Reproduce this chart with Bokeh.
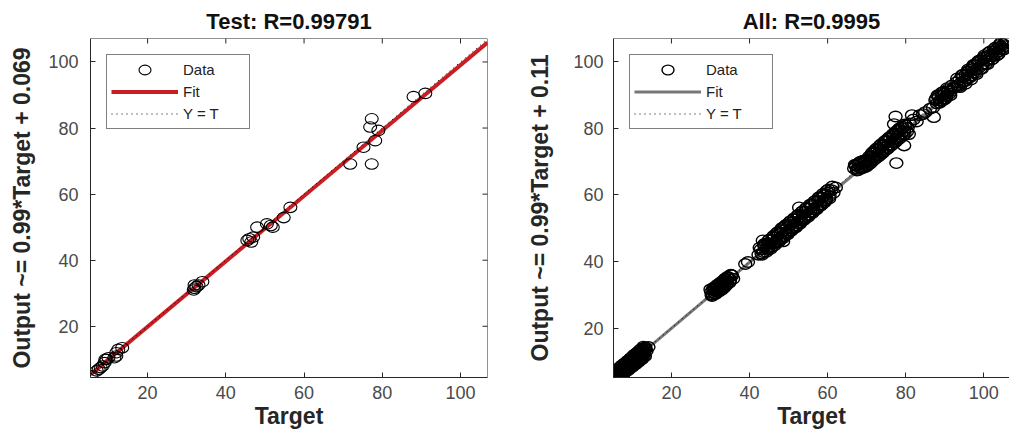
import math
from bokeh.plotting import figure
from bokeh.models import Range1d, Legend, LegendItem, FixedTicker, Span
from bokeh.layouts import row
from bokeh.embed import file_html
from bokeh.resources import INLINE

# ---------------- data ----------------
test_title = "Test: R=0.99791"
all_title = "All: R=0.9995"
test_ylabel = "Output ~= 0.99*Target + 0.069"
all_ylabel = "Output ~= 0.99*Target + 0.11"
x_label = "Target"
tick_values = [20, 40, 60, 80, 100]
legend_labels = ["Data", "Fit", "Y = T"]
test_fit = [0.99, 0.069]
all_fit = [0.99, 0.11]

test_target = [5.6, 7.0, 7.5, 8.0, 8.5, 9.0, 9.2, 9.5, 10.0, 11.5, 12.0, 12.0, 12.5, 13.5,
               31.8, 32.0, 32.0, 32.5, 33.0, 34.0, 45.5, 46.0, 46.5, 47.0, 48.0, 50.5, 51.5, 52.0,
               54.8, 56.5, 71.8, 75.2, 77.3, 76.9, 79.0, 78.2, 77.3, 88.0, 91.0]
test_output = [5.0, 6.5, 7.0, 7.5, 8.0, 9.0, 10.0, 10.0, 10.5, 10.5, 11.0, 12.0, 13.0, 13.5,
               31.0, 31.5, 32.5, 32.0, 32.5, 33.5, 46.0, 46.5, 45.5, 47.0, 50.0, 51.0, 50.5, 50.0,
               52.9, 56.0, 69.1, 74.2, 82.8, 80.3, 79.3, 76.2, 69.1, 89.5, 90.5]

all_target_a = [5.2, 5.4, 5.5, 5.6, 5.8, 5.9, 6.0, 6.1, 6.3, 6.4, 6.5, 6.7, 6.8, 7.0, 7.1, 7.3, 7.4,
                7.6, 7.8, 7.9, 8.1, 8.3, 8.4, 8.6, 8.8, 9.0, 9.1, 9.3, 9.5, 9.7, 9.9, 10.1, 10.3,
                10.5, 10.7, 10.9, 11.1, 11.3, 11.5, 11.7, 11.9, 12.1, 12.3, 12.5, 12.8, 13.0, 13.3,
                13.6, 14.1, 5.3, 6.2, 7.2, 8.0, 8.9, 9.8, 10.6, 11.4, 12.2, 13.1,
                5.3, 5.7, 6.1, 6.5, 6.9, 7.3, 7.7, 8.1, 8.5, 8.9, 9.3, 9.7, 10.1, 10.5, 10.9, 11.3,
                11.7, 12.1, 12.5, 12.9, 13.3,
                5.5, 5.9, 6.3, 6.7, 7.1, 7.5, 7.9, 8.3, 8.7, 9.1, 9.5, 9.9, 10.3, 10.7, 11.1, 11.5,
                11.9, 12.3, 12.7,
                5.6, 6.0, 6.4, 6.8, 7.2, 7.6, 8.0, 8.4, 8.8, 9.2, 9.6, 10.0, 10.4, 10.8, 11.2, 11.6,
                12.0, 12.4, 12.8, 13.2]
all_output_a = [5.6, 5.0, 6.1, 5.3, 6.2, 5.5, 6.6, 5.8, 6.0, 7.0, 6.2, 7.1, 6.5, 7.4, 6.8, 7.9, 7.0,
                7.2, 8.3, 7.5, 8.6, 7.9, 8.9, 8.2, 9.3, 8.6, 9.6, 9.0, 10.1, 9.2, 10.4, 9.7, 10.8,
                10.0, 11.2, 10.5, 11.6, 10.9, 12.0, 11.2, 12.4, 11.6, 12.8, 12.1, 13.2, 12.5, 13.6,
                13.1, 14.3, 5.9, 5.6, 6.7, 8.7, 8.0, 10.6, 9.9, 12.1, 11.3, 13.9,
                6.8, 4.9, 7.5, 5.4, 8.2, 6.0, 9.0, 6.7, 9.8, 7.4, 10.6, 8.3, 11.4, 9.1, 12.3, 9.9,
                13.0, 10.7, 13.8, 11.6, 14.2,
                4.8, 6.9, 5.6, 7.8, 6.2, 8.6, 7.1, 9.3, 7.8, 10.1, 8.5, 10.9, 9.4, 11.8, 10.2, 12.6,
                11.0, 13.4, 11.9,
                7.3, 5.2, 7.9, 5.7, 8.7, 6.3, 9.4, 7.0, 10.2, 7.7, 11.0, 8.4, 11.9, 9.1, 12.6, 9.9,
                13.5, 10.6, 14.4, 11.5]
all_target_b = [30.2, 30.5, 30.8, 31.0, 31.2, 31.4, 31.6, 31.8, 32.0, 32.2, 32.4, 32.6, 32.8, 33.0,
                33.3, 33.6, 33.9, 34.2, 34.6, 35.0, 35.5, 38.9, 39.6,
                30.0, 30.4, 30.9, 31.3, 31.7, 32.1, 32.5, 32.9, 33.2, 33.5, 33.8, 34.1, 34.4, 34.8,
                35.2, 35.8,
                30.3, 30.7, 31.1, 31.5, 31.9, 32.3, 32.7, 33.1, 33.4, 33.7, 34.0, 34.3, 34.9, 35.3]
all_output_b = [30.8, 30.1, 31.5, 30.6, 31.9, 31.0, 32.3, 31.3, 32.6, 31.7, 33.0, 32.1, 33.4, 32.5,
                33.9, 33.1, 34.4, 33.7, 35.0, 34.6, 35.8, 39.2, 39.8,
                31.6, 29.6, 32.2, 30.2, 32.9, 30.9, 33.6, 31.5, 34.2, 32.2, 34.9, 32.9, 35.4, 33.6,
                36.0, 34.8,
                29.9, 31.9, 30.4, 32.5, 31.1, 33.2, 31.7, 33.9, 32.4, 34.6, 33.0, 35.2, 33.9, 35.9]
all_target_c = [42.3, 42.9, 43.5, 43.9, 44.4, 44.8, 45.2, 45.6, 46.0, 46.4, 46.8, 47.2, 47.6, 48.0,
                48.4, 48.8, 49.2, 49.6, 50.0, 50.4, 50.8, 51.2, 51.6, 52.0, 52.4, 52.8, 53.2, 53.6,
                54.0, 54.4, 54.8, 55.2, 55.6, 56.0, 56.4, 56.8, 57.2, 57.6, 58.0, 58.4, 58.8, 59.2,
                59.6, 60.0, 60.5, 61.0, 61.5, 62.1, 52.7, 48.6, 43.4, 44.0,
                42.6, 43.2, 43.8, 44.3, 44.9, 45.4, 46.0, 46.5, 47.0, 47.5, 48.1, 48.6, 49.1, 49.7,
                50.2, 50.7, 51.3, 51.8, 52.3, 52.9, 53.4, 53.9, 54.5, 55.0, 55.5, 56.1, 56.6, 57.1,
                57.7, 58.2, 58.7, 59.3, 59.8, 60.4, 61.2,
                43.1, 43.7, 44.6, 45.1, 45.7, 46.3, 46.9, 47.4, 47.9, 48.3, 48.9, 49.4, 49.9, 50.5,
                51.0, 51.5, 52.1, 52.6, 53.1, 53.7, 54.2, 54.7, 55.3, 55.8, 56.3, 56.9, 57.4, 57.9,
                58.5, 59.0, 59.5, 60.2]
all_output_c = [42.0, 43.6, 42.8, 44.6, 43.9, 45.5, 44.6, 46.3, 45.4, 47.1, 46.0, 47.9, 46.8, 48.7,
                47.5, 49.3, 48.3, 50.2, 49.1, 51.0, 50.0, 51.9, 50.8, 52.6, 51.5, 53.4, 52.3, 54.2,
                53.1, 55.0, 54.0, 55.8, 54.7, 56.6, 55.6, 57.5, 56.3, 58.3, 57.1, 59.1, 57.8, 59.8,
                58.7, 60.6, 59.6, 61.4, 60.6, 62.2, 56.2, 46.0, 46.3, 44.7,
                44.1, 42.0, 45.2, 42.9, 46.3, 43.8, 47.4, 44.9, 48.5, 45.9, 49.6, 47.0, 50.6, 48.1,
                51.7, 49.2, 52.7, 50.2, 53.8, 51.3, 54.9, 52.4, 56.0, 53.4, 57.0, 54.5, 58.0, 55.6,
                59.1, 56.7, 60.1, 57.8, 61.2, 58.9, 62.5,
                42.4, 45.0, 43.5, 46.6, 44.4, 47.8, 45.6, 48.9, 46.6, 50.0, 47.6, 51.0, 48.6, 52.1,
                49.7, 53.0, 50.6, 54.0, 51.8, 55.1, 52.8, 56.1, 53.9, 57.1, 55.0, 58.2, 56.0, 59.3,
                57.1, 60.4, 58.3, 61.6]
all_target_d = [66.8, 67.2, 67.6, 68.0, 68.4, 68.8, 69.2, 69.6, 70.0, 70.4, 70.8, 71.2, 71.6, 72.0,
                72.4, 72.8, 73.2, 73.6, 74.0, 74.4, 74.8, 75.2, 75.6, 76.0, 76.4, 76.8, 77.2, 77.6,
                78.0, 78.4, 78.8, 79.2, 79.6, 80.0, 80.5, 81.0, 77.4, 77.6, 81.6, 79.6, 84.4, 87.2,
                77.0, 78.3, 80.8,
                67.0, 67.5, 68.1, 68.6, 69.1, 69.7, 70.2, 70.7, 71.3, 71.8, 72.3, 72.9, 73.4, 73.9,
                74.5, 75.0, 75.5, 76.1, 76.6, 77.1, 77.7, 78.2, 78.7, 79.3, 79.8, 80.3,
                67.3, 67.9, 68.4, 69.0, 69.5, 70.1, 70.6, 71.1, 71.7, 72.2, 72.7, 73.3, 73.8, 74.3,
                74.9, 75.4, 75.9, 76.5, 77.0, 77.5, 78.1, 78.6, 79.1, 79.7]
all_output_d = [67.9, 68.6, 67.8, 69.1, 68.2, 69.4, 68.5, 69.8, 68.9, 70.4, 70.0, 71.6, 71.2, 72.6,
                72.0, 73.4, 72.6, 74.2, 73.4, 75.1, 74.3, 76.0, 75.0, 76.8, 75.8, 77.6, 76.6, 78.4,
                77.5, 79.3, 78.4, 80.0, 79.1, 80.8, 80.1, 81.4, 83.5, 69.5, 83.9, 74.8, 84.2, 83.3,
                81.2, 79.8, 78.2,
                69.0, 67.3, 69.6, 67.9, 70.2, 68.3, 70.6, 69.2, 72.4, 70.4, 73.6, 71.4, 74.8, 72.4,
                75.9, 73.5, 76.9, 74.6, 78.0, 75.6, 79.1, 76.7, 80.1, 77.8, 81.1, 78.9,
                68.9, 67.4, 69.9, 68.0, 70.3, 68.6, 71.4, 69.6, 72.9, 70.8, 74.0, 71.8, 75.2, 72.8,
                76.3, 73.9, 77.3, 75.0, 78.4, 76.0, 79.5, 77.1, 80.5, 78.1]
all_target_e = [82.0, 82.8, 83.6, 85.0, 86.2, 87.0, 87.6, 88.0, 88.4, 88.8, 89.2, 89.6, 90.0, 90.4,
                90.8, 91.2, 91.6, 92.0, 92.5, 88.2, 88.7, 89.3, 89.9, 90.6, 91.4,
                87.8, 88.5, 89.1, 89.7, 90.2, 90.9, 91.8]
all_output_e = [82.6, 82.0, 83.9, 84.8, 85.8, 86.2, 88.4, 87.4, 89.3, 88.3, 89.9, 88.8, 90.3, 89.6,
                91.0, 90.4, 91.2, 91.9, 92.3, 89.9, 87.6, 90.7, 88.6, 92.0, 89.9,
                88.9, 89.8, 88.1, 90.9, 89.0, 91.7, 92.8]
all_target_f = [93.0, 93.4, 93.8, 94.2, 94.6, 95.0, 95.4, 95.8, 96.2, 96.6, 97.0, 97.4, 97.8, 98.2,
                98.6, 99.0, 99.4, 99.8, 100.2, 100.6, 101.0, 101.4, 101.8, 102.2, 102.6, 103.0,
                103.4, 103.8, 104.2, 104.6, 105.0, 105.4, 105.8, 106.2,
                93.2, 93.9, 94.6, 95.3, 96.0, 96.7, 97.4, 98.1, 98.8, 99.5, 100.2, 100.9, 101.6,
                102.3, 103.0, 103.7, 104.4, 105.1, 105.9,
                93.6, 94.4, 95.1, 95.9, 96.5, 97.2, 97.9, 98.5, 99.2, 99.9, 100.5, 101.2, 101.9,
                102.6, 103.3, 104.0, 104.8, 105.6]
all_output_f = [93.8, 92.9, 94.5, 93.6, 95.3, 94.2, 96.1, 95.0, 97.0, 95.8, 98.0, 96.7, 98.9, 97.6,
                99.8, 98.4, 100.4, 99.2, 101.1, 100.2, 101.6, 100.8, 102.0, 101.6, 102.9, 102.4,
                103.8, 103.0, 104.4, 103.9, 105.2, 104.6, 105.8, 106.8,
                94.9, 92.3, 96.0, 93.3, 97.6, 94.6, 99.0, 96.2, 100.3, 97.8, 101.9, 99.2, 103.0,
                100.8, 104.2, 102.2, 105.6, 103.6, 106.5,
                92.6, 95.8, 94.0, 97.1, 95.3, 98.6, 96.6, 99.9, 97.9, 101.2, 99.3, 102.6, 100.5,
                103.7, 101.8, 105.0, 103.5, 106.2]

all_target = all_target_a + all_target_b + all_target_c + all_target_d + all_target_e + all_target_f
all_output = all_output_a + all_output_b + all_output_c + all_output_d + all_output_e + all_output_f

FONT = "Liberation Sans"
DARK = "#262626"


def make_panel(title, ylabel, tx, ty, fit, fit_color, fit_width, xr, yr, width,
               border_left, border_right, ylabel_standoff, ytick_standoff, right_side,
               marker_width):
    p = figure(width=width, height=440, x_range=Range1d(*xr), y_range=Range1d(*yr),
               output_backend="svg", toolbar_location=None, title=title,
               x_axis_label=x_label, y_axis_label=ylabel,
               min_border_left=border_left, min_border_right=border_right,
               min_border_top=38, min_border_bottom=63)
    p.xgrid.visible = False
    p.ygrid.visible = False
    p.outline_line_color = None
    p.background_fill_color = "white"
    p.border_fill_color = "white"

    p.title.text_font = FONT
    p.title.text_font_size = "22px"
    p.title.text_font_style = "bold"
    p.title.text_color = "#111111"
    p.title.align = "center"
    p.title.standoff = 10

    for ax in p.xaxis + p.yaxis:
        ax.ticker = FixedTicker(ticks=tick_values)
        ax.major_tick_in = 5
        ax.major_tick_out = 0
        ax.minor_tick_line_color = None
        ax.axis_line_color = DARK
        ax.major_tick_line_color = DARK
        ax.major_label_text_font = FONT
        ax.major_label_text_font_size = "18px"
        ax.major_label_text_color = "#4a4a4a"
        ax.axis_label_text_font = FONT
        ax.axis_label_text_font_size = "23px"
        ax.axis_label_text_font_style = "bold"
        ax.axis_label_text_color = DARK
    p.xaxis.major_label_standoff = 8
    p.xaxis.axis_label_standoff = 1
    p.yaxis.major_label_standoff = ytick_standoff
    p.yaxis.axis_label_standoff = ylabel_standoff

    lo, hi = xr
    ylo, yhi = yr
    # box: top edge (and right edge when visible) with inward ticks
    p.add_layout(Span(location=yhi, dimension="width", line_color=DARK, line_width=1))
    p.scatter(x=tick_values, y=[yhi] * len(tick_values), marker="dash", angle=math.pi / 2,
              size=10, line_color=DARK, line_width=1)
    if right_side:
        p.add_layout(Span(location=hi, dimension="height", line_color=DARK, line_width=1))
        p.scatter(x=[hi] * len(tick_values), y=tick_values, marker="dash", size=10,
                  line_color=DARK, line_width=1)

    r_fit = p.line(x=[lo, hi], y=[fit[0] * lo + fit[1], fit[0] * hi + fit[1]],
                   line_color=fit_color, line_width=fit_width)
    r_yt = p.line(x=[lo, hi], y=[lo, hi], line_color="black", line_width=1, line_dash="1 4")
    r_data = p.ellipse(x=tx, y=ty, width=13, height=10.5, width_units="screen",
                       height_units="screen", fill_color=None, line_color="black",
                       line_width=marker_width)

    legend = Legend(items=[LegendItem(label=legend_labels[0], renderers=[r_data]),
                           LegendItem(label=legend_labels[1], renderers=[r_fit]),
                           LegendItem(label=legend_labels[2], renderers=[r_yt])],
                    location="top_left")
    legend.border_line_color = "black"
    legend.border_line_width = 1
    legend.background_fill_color = "white"
    legend.background_fill_alpha = 1.0
    legend.label_text_font = FONT
    legend.label_text_font_size = "15px"
    legend.label_text_color = "#222222"
    legend.glyph_width = 67
    legend.glyph_height = 15
    legend.label_height = 21
    legend.label_width = 62
    legend.label_standoff = 5
    legend.padding = 4
    legend.spacing = 1
    legend.margin = 16
    p.add_layout(legend)
    return p


p1 = make_panel(test_title, test_ylabel, test_target, test_output, test_fit, "#c81e24", 4,
                (5.4, 106.9), (4.5, 107.1), 500, 90, 13, 10, 12, True, 1.1)
p2 = make_panel(all_title, all_ylabel, all_target, all_output, all_fit, "#777777", 3,
                (5.16, 106.58), (5.15, 106.9), 509, 113, 0, 17, 10, False, 1.4)

layout = row(p1, p2)
open("out.html", "w").write(file_html(layout, INLINE))
